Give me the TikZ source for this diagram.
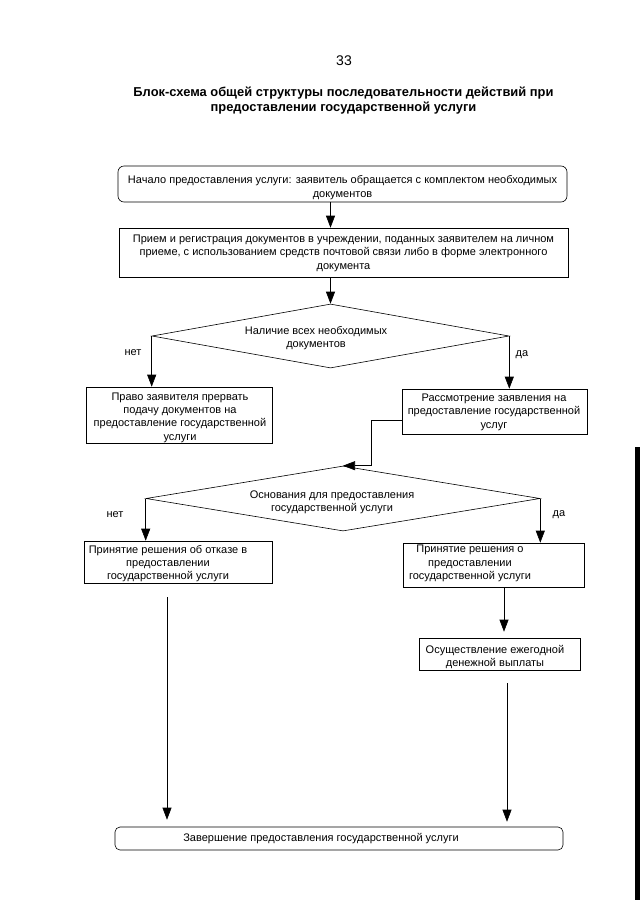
\documentclass[tikz,border=0pt]{standalone}
\usepackage{fontspec}
\setmainfont{Liberation Sans}
\usetikzlibrary{arrows.meta,shapes.geometric}
\begin{document}
\begin{tikzpicture}[x=1pt,y=-1pt,
  box/.style={draw,line width=0.6pt,inner sep=0pt,anchor=center},
  rbox/.style={box,rounded corners=6pt},
  dia/.style={draw,line width=0.6pt,shape=diamond,inner sep=0pt,anchor=center},
  txt/.style={font=\fontsize{11}{13.4}\selectfont,align=center,inner sep=0pt,anchor=center},
  lbl/.style={font=\fontsize{11}{13}\selectfont,inner sep=0pt,anchor=center},
  arr/.style={line width=0.6pt,-{Triangle[length=12pt,width=9pt]}}
]
\useasboundingbox (0,0) rectangle (640,905);
\fill[black] (635,447) rectangle (640,900);

\node[font=\fontsize{14}{16}\selectfont,inner sep=0pt] (pg) at (344,61) {33};
\node[font=\bfseries\fontsize{12.9}{15}\selectfont,align=center,inner sep=0pt] (title) at (343.5,101)
  {Блок-схема общей структуры последовательности действий при\\предоставлении государственной услуги};

% boxes
\node[rbox,minimum width=449pt,minimum height=36pt] (n1) at (342.5,184) {};
\node[box,minimum width=449pt,minimum height=49pt] (n2) at (343.5,252.5) {};
\node[dia,minimum width=357pt,minimum height=64pt] (d1) at (330.5,336) {};
\node[box,minimum width=186pt,minimum height=56pt] (b3) at (179,415) {};
\node[box,minimum width=185pt,minimum height=45pt] (b4) at (494.5,411.5) {};
\node[dia,minimum width=394pt,minimum height=65pt] (d2) at (343,498.5) {};
\node[box,minimum width=188pt,minimum height=42pt] (b5) at (178,562) {};
\node[box,minimum width=181pt,minimum height=44pt] (b6) at (493.5,565) {};
\node[box,minimum width=161pt,minimum height=32pt] (b7) at (499.5,654) {};
\node[rbox,rounded corners=5pt,minimum width=448pt,minimum height=23pt] (b8) at (339,838.5) {};

% texts
\node[txt] (t1) at (342.5,187.5) {Начало предоставления услуги: заявитель обращается с комплектом необходимых\\документов};
\node[txt] (t2) at (343.5,253) {Прием и регистрация документов в учреждении, поданных заявителем на личном\\приеме, с использованием средств почтовой связи либо в форме электронного\\документа};
\node[txt] (d1t) at (316,338) {Наличие всех необходимых\\документов};
\node[txt] (t3) at (180,417.5) {Право заявителя прервать\\подачу документов на\\предоставление государственной\\услуги};
\node[txt] (t4) at (494,412) {Рассмотрение заявления на\\предоставление государственной\\услуг};
\node[txt] (d2t) at (332,502) {Основания для предоставления\\государственной услуги};
\node[txt] (t5) at (168,563.5) {Принятие решения об отказе в\\предоставлении\\государственной услуги};
\node[txt] (t6) at (470,563.5) {Принятие решения о\\предоставлении\\государственной услуги};
\node[txt] (t7) at (495,657) {Осуществление ежегодной\\денежной выплаты};
\node[txt] (t8) at (321,839) {Завершение предоставления государственной услуги};

% labels
\node[lbl] (no1) at (133,353) {нет};
\node[lbl] (yes1) at (522,355) {да};
\node[lbl] (no2) at (115,515) {нет};
\node[lbl] (yes2) at (559,515) {да};

% connectors
\draw[arr] (n1.south -| d1.north) -- (n2.north -| d1.north);
\draw[arr] (n2.south -| d1.north) -- (d1.north);
\draw[arr] (d1.west) -- (d1.west |- b3.north);
\draw[arr] (d1.east) -- (d1.east |- b4.north);
\draw[arr] ([yshift=-8.5pt]b4.west) -| ([xshift=28pt]d2.north) -- (d2.north);
\draw[arr] (d2.west) -- (d2.west |- b5.north);
\draw[arr] (d2.east) -- (d2.east |- b6.north);
\draw[arr] ([xshift=10.5pt]b6.south) -- ([xshift=4.5pt,yshift=6pt]b7.north);
\draw[arr] ([xshift=7.5pt,yshift=-13pt]b7.south) -- ([xshift=168pt,yshift=5pt]b8.north);
\draw[arr] ([xshift=-11pt,yshift=-14pt]b5.south) -- ([xshift=-172pt,yshift=7pt]b8.north);
\end{tikzpicture}
\end{document}
